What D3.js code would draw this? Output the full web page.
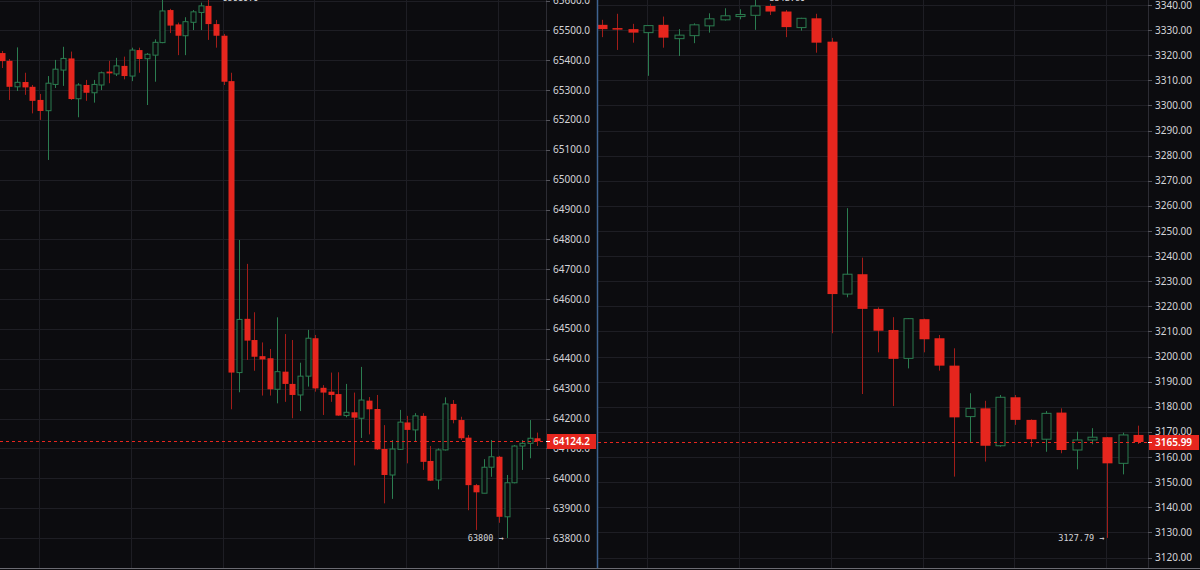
<!DOCTYPE html>
<html>
<head>
<meta charset="utf-8">
<script src="https://cdn.jsdelivr.net/npm/d3@7"></script>
<style>
  body { margin: 0; background: #0c0c0f; }
  svg { display: block; }
</style>
</head>
<body>
<div id="chart"></div>
<script>
// 1. DATA  (each candle: [open, high, low, close])
const btcCandles = [
  [65424, 65431, 65374, 65397], [65398, 65404, 65267, 65311], [65311, 65443, 65297, 65326],
  [65327, 65358, 65284, 65309], [65311, 65317, 65222, 65264], [65267, 65287, 65200, 65230],
  [65231, 65347, 65066, 65323], [65319, 65401, 65307, 65370], [65367, 65445, 65314, 65406],
  [65406, 65429, 65267, 65270], [65271, 65323, 65209, 65317], [65317, 65334, 65264, 65291],
  [65291, 65334, 65258, 65319], [65317, 65362, 65300, 65358], [65362, 65398, 65323, 65356],
  [65354, 65408, 65347, 65381], [65381, 65412, 65336, 65347], [65347, 65442, 65330, 65434],
  [65434, 65442, 65358, 65404], [65405, 65424, 65250, 65420], [65417, 65470, 65328, 65460],
  [65459, 65604, 65457, 65565], [65568, 65572, 65491, 65516], [65520, 65526, 65417, 65482],
  [65482, 65544, 65417, 65529], [65527, 65568, 65501, 65562], [65560, 65593, 65501, 65582],
  [65582, 65610, 65468, 65521], [65521, 65535, 65442, 65482], [65482, 65488, 65317, 65328],
  [65330, 65358, 64231, 64354], [64354, 64798, 64288, 64532], [64534, 64718, 64396, 64461],
  [64463, 64556, 64360, 64407], [64409, 64455, 64277, 64398], [64402, 64433, 64277, 64298],
  [64298, 64539, 64251, 64357], [64357, 64483, 64256, 64316], [64316, 64463, 64201, 64279],
  [64279, 64387, 64225, 64342], [64342, 64497, 64307, 64469], [64469, 64480, 64290, 64301],
  [64303, 64312, 64212, 64287], [64290, 64354, 64256, 64279], [64282, 64355, 64209, 64210],
  [64210, 64316, 64204, 64221], [64221, 64287, 64043, 64203], [64201, 64373, 64135, 64262],
  [64260, 64272, 64147, 64231], [64232, 64279, 64095, 64097], [64098, 64178, 63916, 64011],
  [64011, 64128, 63931, 64098], [64097, 64229, 64095, 64188], [64187, 64209, 64050, 64162],
  [64162, 64218, 64124, 64209], [64209, 64218, 64028, 64055], [64058, 64108, 63991, 63992],
  [63994, 64100, 63963, 64095], [64095, 64271, 64093, 64249], [64249, 64262, 64184, 64195],
  [64195, 64206, 64128, 64134], [64136, 64145, 63893, 63977], [63977, 63981, 63827, 63953],
  [63950, 64064, 63950, 64037], [64037, 64128, 64005, 64072], [64072, 64075, 63851, 63871],
  [63871, 64011, 63800, 63985], [63985, 64111, 63983, 64108], [64108, 64128, 64028, 64117],
  [64117, 64195, 64067, 64134], [64134, 64153, 64108, 64124.2]
];
const btcTicks = [63800, 63900, 64000, 64100, 64200, 64300, 64400, 64500, 64600, 64700,
  64800, 64900, 65000, 65100, 65200, 65300, 65400, 65500, 65600];
const btcGridIdx = [5, 17, 29, 41, 53, 65];
const btcLast = 64124.2;
const btcHigh = { i: 27, label: "65610.0" };
const btcLow = { i: 66, label: "63800" };

const ethCandles = [
  [3332.1, 3334.1, 3327.2, 3330.4], [3330.8, 3336.5, 3322.1, 3330.2], [3330.4, 3332.5, 3325.0, 3329.0],
  [3329.0, 3331.9, 3311.8, 3331.8], [3332.1, 3335.4, 3323.0, 3327.0], [3326.6, 3330.4, 3319.7, 3328.0],
  [3327.8, 3332.7, 3324.8, 3332.1], [3331.7, 3336.7, 3329.0, 3334.5], [3334.1, 3338.7, 3333.8, 3335.7],
  [3335.4, 3338.3, 3334.3, 3336.2], [3335.9, 3342.8, 3330.1, 3339.6], [3339.6, 3340.5, 3336.0, 3337.4],
  [3337.4, 3338.0, 3327.2, 3331.2], [3331.0, 3334.9, 3329.8, 3334.7], [3334.7, 3336.5, 3321.0, 3325.0],
  [3325.4, 3326.9, 3209.3, 3224.9], [3224.9, 3259.1, 3223.6, 3232.8], [3232.8, 3239.4, 3185.1, 3219.0],
  [3219.0, 3219.6, 3201.7, 3210.3], [3210.6, 3215.7, 3180.3, 3199.1], [3199.3, 3215.3, 3195.3, 3215.1],
  [3214.9, 3215.1, 3201.7, 3206.9], [3207.3, 3208.6, 3194.4, 3196.4], [3196.4, 3203.3, 3152.2, 3175.8],
  [3176.1, 3185.4, 3165.7, 3179.4], [3179.4, 3182.4, 3158.2, 3164.5], [3164.5, 3184.7, 3164.1, 3183.8],
  [3183.8, 3184.7, 3172.8, 3174.8], [3174.8, 3175.0, 3164.1, 3167.1], [3167.1, 3178.3, 3162.1, 3177.4],
  [3177.7, 3179.4, 3161.5, 3162.8], [3162.8, 3170.1, 3155.1, 3166.8], [3166.8, 3171.5, 3165.1, 3167.9],
  [3167.9, 3168.0, 3127.79, 3157.5], [3157.5, 3169.7, 3153.1, 3168.8], [3168.8, 3172.5, 3165.2, 3165.99]
];
const ethTicks = [3120, 3130, 3140, 3150, 3160, 3170, 3180, 3190, 3200, 3210, 3220, 3230,
  3240, 3250, 3260, 3270, 3280, 3290, 3300, 3310, 3320, 3330, 3340];
const ethGridIdx = [3, 9, 15, 21, 27, 33];
const ethLast = 3165.99;
const ethHigh = { i: 10, label: "3342.80" };
const ethLow = { i: 33, label: "3127.79" };

// 2. SETUP
const width = 1200;
const height = 570;
const colors = {
  bg: "#0c0c0f", grid: "#1e1e24", up: "#2b7d50", down: "#e6261e", downWick: "#a11d19",
  text: "#d4d4d8", border: "#2c2c33"
};

const svg = d3.select("#chart")
  .append("svg")
  .attr("width", width)
  .attr("height", height)
  .style("background", colors.bg);

function drawPanel(p) {
  const x = d3.scaleLinear().domain([0, p.candles.length - 1]).range(p.xRange);
  const y = d3.scaleLinear().domain(p.yDomain).range(p.yRange);
  const g = svg.append("g");

  g.append("clipPath").attr("id", p.id + "-clip")
    .append("rect").attr("x", p.left).attr("y", 0)
    .attr("width", p.axisX - p.left).attr("height", 568);
  const plot = g.append("g").attr("clip-path", `url(#${p.id}-clip)`);

  // grid
  plot.selectAll(".hgrid").data(p.ticks).join("line")
    .attr("x1", p.left).attr("x2", p.axisX)
    .attr("y1", d => Math.round(y(d)) + 0.5).attr("y2", d => Math.round(y(d)) + 0.5)
    .attr("stroke", colors.grid);
  plot.selectAll(".vgrid").data(p.gridIdx).join("line")
    .attr("x1", d => Math.round(x(d)) - 0.5).attr("x2", d => Math.round(x(d)) - 0.5)
    .attr("y1", 0).attr("y2", 568)
    .attr("stroke", colors.grid);

  // candles
  const c = plot.selectAll(".candle").data(p.candles).join("g");
  c.append("line")
    .attr("x1", (d, i) => Math.round(x(i)) + 0.5).attr("x2", (d, i) => Math.round(x(i)) + 0.5)
    .attr("y1", d => y(d[1])).attr("y2", d => y(d[2]))
    .attr("stroke", d => d[3] >= d[0] ? colors.up : colors.downWick);
  c.append("rect")
    .attr("x", (d, i) => Math.round(x(i)) + 0.5 - p.bodyW / 2 + (d[3] >= d[0] ? 0.5 : 0))
    .attr("width", d => d[3] >= d[0] ? p.bodyW - 1 : p.bodyW)
    .attr("y", d => y(Math.max(d[0], d[3])))
    .attr("height", d => Math.max(1.5, y(Math.min(d[0], d[3])) - y(Math.max(d[0], d[3]))))
    .attr("fill", d => d[3] >= d[0] ? colors.bg : colors.down)
    .attr("stroke", d => d[3] >= d[0] ? colors.up : "none");

  // last price line
  const ly = Math.round(y(p.last)) + 0.5;
  plot.append("line")
    .attr("x1", p.left).attr("x2", p.axisX).attr("y1", ly).attr("y2", ly)
    .attr("stroke", colors.down).attr("stroke-dasharray", "3,3").attr("stroke-width", 1);

  // high / low markers
  const hi = p.candles[p.high.i], lo = p.candles[p.low.i];
  plot.append("text")
    .attr("x", x(p.high.i) + 4).attr("y", y(hi[1])).attr("dy", "0.35em")
    .attr("fill", colors.text).style("font", "8.5px 'DejaVu Sans Mono'")
    .text("\u2190 " + p.high.label);
  plot.append("text")
    .attr("x", x(p.low.i) - 3).attr("y", y(lo[2])).attr("dy", "0.35em")
    .attr("text-anchor", "end")
    .attr("fill", colors.text).style("font", "8.5px 'DejaVu Sans Mono'")
    .text(p.low.label + " \u2192");

  // axis
  g.append("line")
    .attr("x1", p.axisX + 0.5).attr("x2", p.axisX + 0.5).attr("y1", 0).attr("y2", 568)
    .attr("stroke", colors.border);
  g.selectAll(".tick").data(p.ticks).join("line")
    .attr("x1", p.axisX).attr("x2", p.axisX + 4)
    .attr("y1", d => Math.round(y(d)) + 0.5).attr("y2", d => Math.round(y(d)) + 0.5)
    .attr("stroke", "#55555c");
  g.selectAll(".label").data(p.ticks).join("text")
    .attr("x", p.axisX + 7).attr("y", d => y(d)).attr("dy", "0.35em")
    .attr("fill", colors.text)
    .style("font", "10px 'Noto Sans', sans-serif")
    .text(d => d3.format(p.fmt)(d));

  // last price tag
  g.append("rect")
    .attr("x", p.axisX + 1).attr("y", ly - 7.5).attr("width", p.tagW).attr("height", 15)
    .attr("fill", colors.down);
  g.append("line")
    .attr("x1", p.axisX).attr("x2", p.axisX + 4).attr("y1", ly).attr("y2", ly)
    .attr("stroke", "#ffffff");
  g.append("text")
    .attr("x", p.axisX + 7).attr("y", ly).attr("dy", "0.35em")
    .attr("fill", "#ffffff")
    .style("font", "600 10px 'Noto Sans', sans-serif")
    .text(d3.format(p.fmt)(p.last));
}

drawPanel({
  id: "btc", candles: btcCandles, ticks: btcTicks, gridIdx: btcGridIdx, last: btcLast,
  high: btcHigh, low: btcLow, left: 0, axisX: 546, xRange: [1.7, 537.3],
  yDomain: [63800, 65600], yRange: [538, 0.5], bodyW: 6, fmt: ".1f", tagW: 49
});
drawPanel({
  id: "eth", candles: ethCandles, ticks: ethTicks, gridIdx: ethGridIdx, last: ethLast,
  high: ethHigh, low: ethLow, left: 598, axisX: 1148, xRange: [602, 1138],
  yDomain: [3120, 3340], yRange: [557.5, 5], bodyW: 10, fmt: ".2f", tagW: 50
});

// panel separator and bottom border
svg.append("line")
  .attr("x1", 597.5).attr("x2", 597.5).attr("y1", 0).attr("y2", 568)
  .attr("stroke", "#3f6391").attr("stroke-width", 1.5);
svg.append("line")
  .attr("x1", 0).attr("x2", width).attr("y1", 568.5).attr("y2", 568.5)
  .attr("stroke", "#6b6b72");
</script>
</body>
</html>
